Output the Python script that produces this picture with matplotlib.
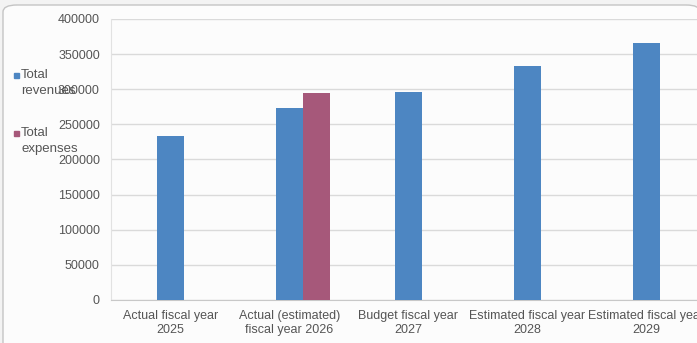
import matplotlib
matplotlib.use("Agg")
import matplotlib.pyplot as plt
import numpy as np
from matplotlib.patches import FancyBboxPatch, Rectangle

categories = ["Actual fiscal year\n2025", "Actual (estimated)\nfiscal year 2026",
              "Budget fiscal year\n2027", "Estimated fiscal year\n2028",
              "Estimated fiscal year\n2029"]
series_names = ["Total\nrevenues", "Total\nexpenses"]
revenues = [233000, 274000, 296000, 333500, 366500]
expenses = [np.nan, 295000, np.nan, np.nan, np.nan]
yticks = [0, 50000, 100000, 150000, 200000, 250000, 300000, 350000, 400000]

blue = "#4d86c2"
pink = "#a6587a"
txt = "#555555"

plt.rcParams['font.family'] = ['Liberation Sans', 'DejaVu Sans']

W, H = 697, 343
fig = plt.figure(figsize=(W / 100, H / 100), dpi=100)
fig.patch.set_facecolor("#f3f3f3")

# chart area with rounded border
border = FancyBboxPatch((3 / W, -0.2), 1.0, 1.2 - 5 / H,
                        boxstyle="round,pad=0,rounding_size=0.02",
                        transform=fig.transFigure, facecolor="#fcfcfc",
                        edgecolor="#c4c4c4", linewidth=1.0, zorder=-10)
fig.patches.append(border)

ax_left = 111 / W
ax_w = 595 / W
ax_bottom = (H - 300) / H
ax_h = 281 / H
ax = fig.add_axes([ax_left, ax_bottom, ax_w, ax_h])
ax.set_zorder(1)
ax.set_facecolor("none")

x = np.arange(len(categories))
w = 0.227
ax.bar(x, revenues, width=w, color=blue, zorder=3)
ax.bar(x + w, expenses, width=w, color=pink, zorder=3)

ax.set_xlim(-0.5, len(categories) - 0.5)
ax.set_ylim(0, 400000)
ax.set_yticks(yticks)
ax.set_yticklabels([str(v) for v in yticks])
ax.set_xticks(x)
ax.set_xticklabels(categories, linespacing=1.25)
ax.grid(axis="y", color="#dadada", linewidth=1.0, zorder=0)
ax.tick_params(axis="both", length=0, labelsize=9, colors=txt)
ax.tick_params(axis="y", pad=8)
ax.tick_params(axis="x", pad=7)
for s in ["top", "right"]:
    ax.spines[s].set_visible(False)
ax.spines["bottom"].set_color("#c8c8c8")
ax.spines["left"].set_color("#e2e2e2")
ax.spines["left"].set_linewidth(0.8)

# legend (left side)
for name, col, ytop in [(series_names[0], blue, 73), (series_names[1], pink, 131)]:
    fig.patches.append(Rectangle((14 / W, 1 - (ytop + 5) / H), 5 / W, 5 / H,
                                 transform=fig.transFigure, color=col, zorder=5))
    fig.text(21 / W, 1 - (ytop - 4) / H, name, fontsize=9.5, color=txt,
             va="top", ha="left", linespacing=1.4, zorder=5)

fig.savefig("out.png", dpi=100, facecolor=fig.get_facecolor())
